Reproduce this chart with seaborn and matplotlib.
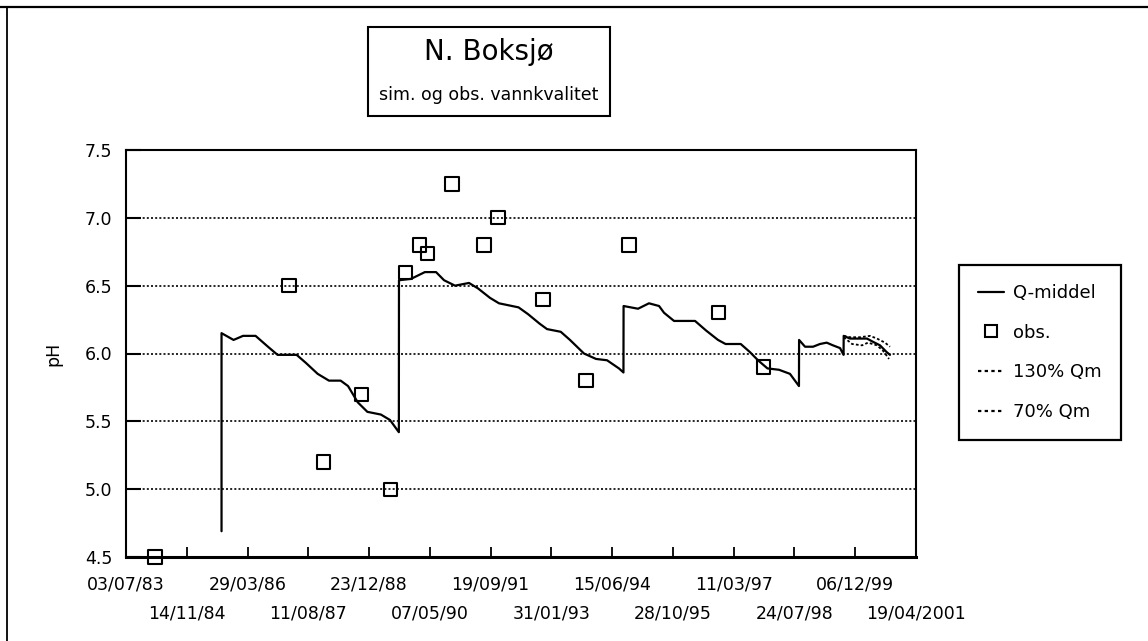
import numpy as np
import pandas as pd
import matplotlib
matplotlib.use("Agg")
import matplotlib.pyplot as plt
import seaborn as sns
from matplotlib.lines import Line2D
from matplotlib.patches import Rectangle

# ---------------- data ----------------
title = "N. Boksjø"
subtitle = "sim. og obs. vannkvalitet"
y_label = "pH"

tick_labels = ["03/07/83", "14/11/84", "29/03/86", "11/08/87", "23/12/88",
               "07/05/90", "19/09/91", "31/01/93", "15/06/94", "28/10/95",
               "11/03/97", "24/07/98", "06/12/99", "19/04/2001"]
y_ticks = [4.5, 5.0, 5.5, 6.0, 6.5, 7.0, 7.5]
y_tick_labels = ["4.5", "5.0", "5.5", "6.0", "6.5", "7.0", "7.5"]

# simulated pH (Q-middel); x = days since 03/07/83
sim_day = [786, 786, 885, 963, 1066, 1168, 1247, 1404, 1481, 1577, 1670, 1766,
           1827, 1907, 1986, 2097, 2172, 2245, 2246, 2345, 2459, 2551, 2617,
           2707, 2822, 2896, 2995, 3069, 3230, 3308, 3403, 3464, 3577, 3653,
           3768, 3867, 3958, 4056, 4093, 4094, 4213, 4303, 4386, 4427, 4509,
           4682, 4772, 4871, 4933, 5058, 5134, 5200, 5278, 5373, 5463, 5537,
           5538, 5587, 5653, 5710, 5765, 5817, 5875, 5904, 5905, 5957, 6097,
           6138, 6204, 6259, 6286]
sim_ph = [4.69, 6.15, 6.10, 6.13, 6.13, 6.05, 5.99, 5.99, 5.93, 5.85, 5.80, 5.80,
          5.76, 5.64, 5.57, 5.55, 5.51, 5.42, 6.54, 6.55, 6.60, 6.60, 6.54,
          6.50, 6.52, 6.48, 6.41, 6.37, 6.34, 6.29, 6.22, 6.18, 6.16, 6.10,
          6.00, 5.96, 5.95, 5.89, 5.86, 6.35, 6.33, 6.37, 6.35, 6.30, 6.24,
          6.24, 6.17, 6.10, 6.07, 6.07, 6.01, 5.95, 5.89, 5.88, 5.85, 5.76,
          6.10, 6.05, 6.05, 6.07, 6.08, 6.06, 6.04, 5.99, 6.13, 6.11, 6.11,
          6.09, 6.06, 6.01, 5.99]

q130_day = [5905, 5957, 6039, 6122, 6179, 6245, 6286]
q130_ph = [6.13, 6.12, 6.12, 6.13, 6.11, 6.08, 6.05]
q70_day = [5905, 5974, 6056, 6105, 6179, 6229, 6278]
q70_ph = [6.12, 6.07, 6.06, 6.08, 6.06, 6.02, 5.96]

# observed pH
obs_day = [239, 1341, 1624, 1939, 2175, 2301, 2417, 2481, 2682, 2946, 3061,
           3431, 3785, 4139, 4876, 5246]
obs_ph = [4.5, 6.5, 5.2, 5.7, 5.0, 6.6, 6.8, 6.74, 7.25, 6.8, 7.0,
          6.4, 5.8, 6.8, 6.3, 5.9]

legend_labels = ["Q-middel", "obs.", "130% Qm", "70% Qm"]

# ---------------- helpers ----------------
def parse(s):
    fmt = "%d/%m/%Y" if len(s.split("/")[-1]) == 4 else "%d/%m/%y"
    return pd.to_datetime(s, format=fmt)

tick_dates = [parse(s) for s in tick_labels]
t0 = tick_dates[0]

def to_dates(days):
    return t0 + pd.to_timedelta(np.asarray(days), unit="D")

sim = pd.DataFrame({"date": to_dates(sim_day), "pH": sim_ph})
q130 = pd.DataFrame({"date": to_dates(q130_day), "pH": q130_ph})
q70 = pd.DataFrame({"date": to_dates(q70_day), "pH": q70_ph})
obs = pd.DataFrame({"date": to_dates(obs_day), "pH": obs_ph})

# ---------------- figure ----------------
sns.set_theme(style="white")
plt.rcParams['font.family'] = ['DejaVu Sans']
plt.rcParams['text.color'] = 'black'

W, H = 1148, 641
fig = plt.figure(figsize=(W / 100, H / 100), dpi=100)
fig.patch.set_facecolor("white")
ax = fig.add_axes([126 / W, 1 - 557 / H, 790 / W, 407 / H])
ax.set_facecolor("white")

dot = (0, (1.2, 1.3))
ax.grid(axis="y", color="black", linestyle=dot, linewidth=1.2)
ax.grid(axis="x", visible=False)
ax.set_axisbelow(True)

sns.lineplot(data=sim, x="date", y="pH", estimator=None, sort=False,
             color="black", linewidth=1.6, ax=ax, legend=False)
sns.lineplot(data=q130, x="date", y="pH", estimator=None, sort=False,
             color="black", linewidth=1.3, linestyle=(0, (1.5, 1.2)), ax=ax, legend=False)
sns.lineplot(data=q70, x="date", y="pH", estimator=None, sort=False,
             color="black", linewidth=1.3, linestyle=(0, (1.5, 1.2)), ax=ax, legend=False)
sns.scatterplot(data=obs, x="date", y="pH", marker="s", s=90,
                facecolors="none", edgecolor="black", linewidth=1.5,
                clip_on=False, zorder=5, ax=ax, legend=False)

ax.set_ylim(4.5, 7.5)
ax.set_yticks(y_ticks)
ax.set_yticklabels(y_tick_labels)
ax.set_xlim(tick_dates[0], tick_dates[-1])
ax.set_xticks(tick_dates[0::2])
ax.set_xticklabels(tick_labels[0::2])
ax.set_xticks(tick_dates[1::2], minor=True)
ax.set_xticklabels(tick_labels[1::2], minor=True)

ax.tick_params(axis="y", direction="in", length=11, width=1.5, pad=10,
               labelsize=12.5, colors="black", left=True)
ax.tick_params(axis="x", which="both", direction="in", length=7, width=1.3,
               labelsize=12.5, colors="black", bottom=True)
ax.tick_params(axis="x", which="major", pad=13)
ax.tick_params(axis="x", which="minor", pad=34)

for side in ["top", "right", "left"]:
    ax.spines[side].set_color("black")
    ax.spines[side].set_linewidth(1.5)
ax.spines["bottom"].set_color("black")
ax.spines["bottom"].set_linewidth(2.2)

ax.set_xlabel("")
ax.set_ylabel(y_label, fontsize=12.5, color="black")
ax.yaxis.set_label_coords(-0.08, 0.5)

# legend
handles = [
    Line2D([], [], color="black", lw=1.6),
    Line2D([], [], marker="s", ls="none", mfc="none", mec="black", ms=8, mew=1.5),
    Line2D([], [], color="black", lw=1.6, ls=(0, (1.5, 1.5))),
    Line2D([], [], color="black", lw=1.6, ls=(0, (1.5, 1.5))),
]
leg = fig.legend(handles, legend_labels, loc="upper left",
                 bbox_to_anchor=(959 / W, 1 - 265 / H), frameon=True,
                 fancybox=False, edgecolor="black", framealpha=1,
                 fontsize=13, handlelength=1.45, handletextpad=0.5,
                 labelspacing=1.2, borderpad=1.05, borderaxespad=0)
leg.get_frame().set_linewidth(1.6)

# title box
fig.add_artist(Rectangle((368 / W, 1 - 116 / H), (610 - 368) / W, (116 - 27) / H,
                         transform=fig.transFigure, fill=False, lw=1.5, ec="black"))
fig.text(489 / W, 1 - 52 / H, title, ha="center", va="center", fontsize=20)
fig.text(489 / W, 1 - 95 / H, subtitle, ha="center", va="center", fontsize=12.5)

# outer border (top and left)
fig.add_artist(Line2D([0, 1], [1 - 7 / H, 1 - 7 / H], transform=fig.transFigure,
                      color="black", lw=1.6))
fig.add_artist(Line2D([7 / W, 7 / W], [0, 1 - 7 / H], transform=fig.transFigure,
                      color="black", lw=1.3))

fig.savefig("out.png", dpi=100)
